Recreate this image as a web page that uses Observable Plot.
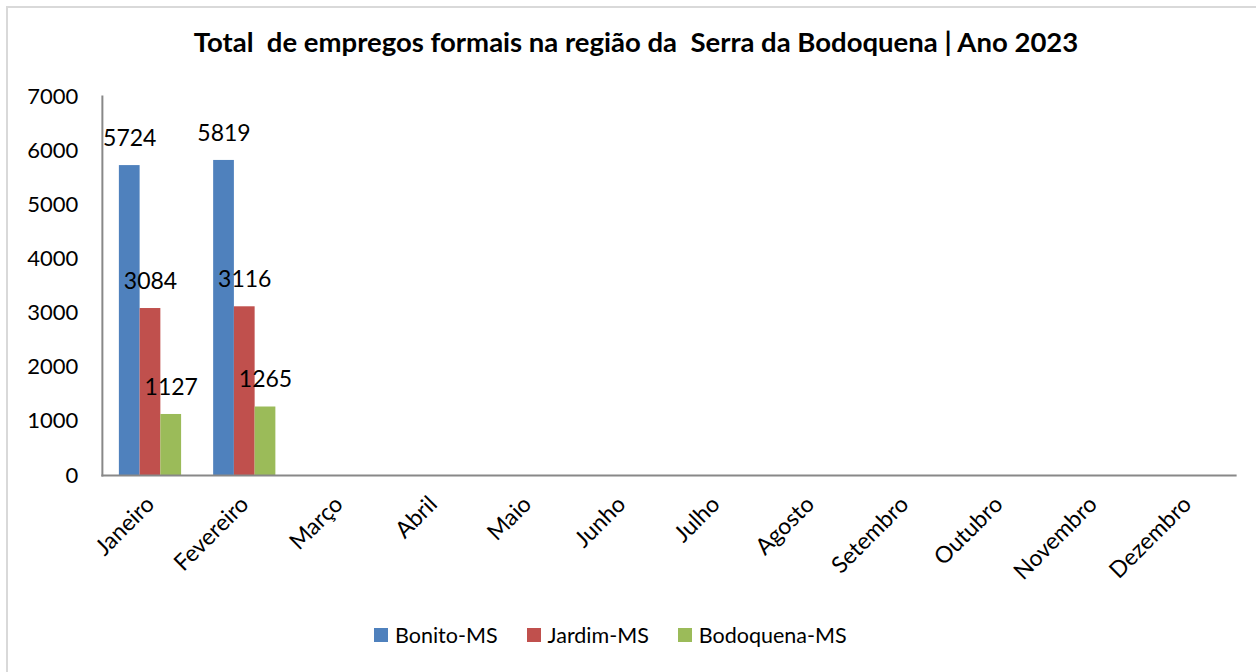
<!DOCTYPE html>
<html>
<head>
<meta charset="utf-8">
<script src="https://cdn.jsdelivr.net/npm/d3@7"></script>
<script src="https://cdn.jsdelivr.net/npm/@observablehq/plot@0.6"></script>
<style>
  html, body { margin: 0; padding: 0; background: #fff; }
  #wrap { position: relative; width: 1256px; height: 672px; overflow: hidden; font-family: Lato, "Open Sans", sans-serif; }
  #border { position: absolute; left: 6px; top: 6px; width: 1300px; height: 700px; border-left: 2px solid #d9d9d9; border-top: 2px solid #d9d9d9; }
  #title { position: absolute; left: 0; width: 1272px; top: 25px; text-align: center; font-weight: bold; font-size: 27.5px; color: #000; white-space: pre; }
  #chart { position: absolute; left: 0; top: 70px; }
  #legend { position: absolute; left: 374px; top: 622px; display: flex; align-items: center; font-size: 21.5px; color: #000; }
  .item { display: flex; align-items: center; margin-right: 29px; }
  .sw { width: 14px; height: 14px; margin-right: 7px; }
</style>
</head>
<body>
<div id="wrap">
  <div id="border"></div>
  <div id="title"></div>
  <div id="chart"></div>
  <div id="legend"></div>
</div>
<script>
const titleText = "Total  de empregos formais na região da  Serra da Bodoquena | Ano 2023";
const months = ["Janeiro", "Fevereiro", "Março", "Abril", "Maio", "Junho", "Julho", "Agosto", "Setembro", "Outubro", "Novembro", "Dezembro"];
const seriesNames = ["Bonito-MS", "Jardim-MS", "Bodoquena-MS"];
const bonito = [5724, 5819];
const jardim = [3084, 3116];
const bodoquena = [1127, 1265];
const colors = ["#4f81bd", "#c0504d", "#9bbb59"];
const yTicks = [0, 1000, 2000, 3000, 4000, 5000, 6000, 7000];

const seriesValues = [bonito, jardim, bodoquena];
const data = [];
seriesNames.forEach((s, i) => {
  seriesValues[i].forEach((v, j) => data.push({month: months[j], series: s, value: v}));
});

document.getElementById("title").textContent = titleText;

const chart = Plot.plot({
  width: 1256,
  height: 545,
  marginLeft: 102,
  marginRight: 21,
  marginTop: 26,
  marginBottom: 140,
  style: {fontFamily: "Lato, 'Open Sans', sans-serif", color: "#000", background: "transparent"},
  fx: {domain: months, paddingInner: 0.34, paddingOuter: 0.179, round: false, label: null},
  x: {domain: seriesNames, padding: 0, round: false, axis: null},
  y: {domain: [0, 7000], label: null},
  color: {domain: seriesNames, range: colors},
  marks: [
    Plot.barY(data, {fx: "month", x: "series", y: "value", fill: "series"}),
    Plot.text(data, {fx: "month", x: "series", y: "value", text: d => String(d.value), dy: -27, fontSize: 23, fill: "#000"}),
    Plot.frame({anchor: "bottom", facet: "super", stroke: "#888", strokeWidth: 2, insetLeft: -17, insetRight: -17}),
    Plot.frame({anchor: "left", facet: "super", stroke: "#888", strokeWidth: 2, insetLeft: -17, insetRight: -17}),
    Plot.axisY({ticks: yTicks, tickSize: 0, tickPadding: 41, fontSize: 22, tickFormat: d => String(d), label: null}),
    Plot.axisFx({anchor: "bottom", tickRotate: -45, tickSize: 0, tickPadding: 25, fontSize: 23, label: null})
  ]
});
document.getElementById("chart").appendChild(chart);

const legend = document.getElementById("legend");
seriesNames.forEach((s, i) => {
  const item = document.createElement("div");
  item.className = "item";
  const sw = document.createElement("div");
  sw.className = "sw";
  sw.style.background = colors[i];
  const t = document.createElement("span");
  t.textContent = s;
  item.appendChild(sw);
  item.appendChild(t);
  legend.appendChild(item);
});
</script>
</body>
</html>
